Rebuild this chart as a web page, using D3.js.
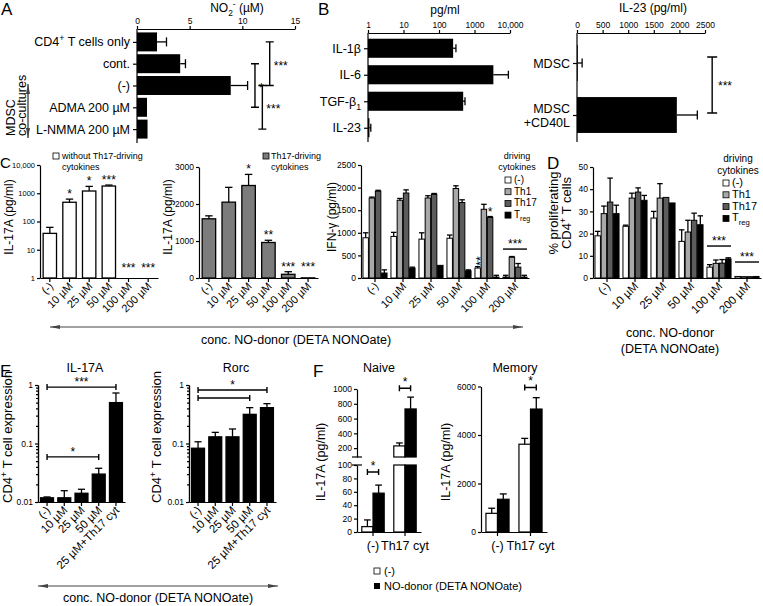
<!DOCTYPE html>
<html>
<head>
<meta charset="utf-8">
<script src="https://cdn.jsdelivr.net/npm/d3@7"></script>
<style>
  body { margin: 0; background: #fff; }
  svg { font-family: "Liberation Sans", Arial, sans-serif; }
</style>
</head>
<body>
<svg width="763" height="606"></svg>
<script>
// ---- data ----
// A: NO2- in co-cultures
const aCats = ["CD4^{+} T cells only", "cont.", "(-)", "ADMA 200 µM", "L-NMMA 200 µM"];
const aVals = [1.9, 4.1, 8.9, 0.95, 1.0];
const aHi = [2.8, 4.6, 10.5, 0.95, 1.0];
const aTicks = [0, 5, 10, 15];
const aSig = [["cont.", "ADMA 200 µM", 11.2, "*"], ["CD4^{+} T cells only", "(-)", 12.6, "***"], ["(-)", "L-NMMA 200 µM", 11.9, "***"]];

// B: cytokines (pg/ml)
const bCats = ["IL-1β", "IL-6", "TGF-β_{1}", "IL-23"];
const bVals = [250, 3400, 480, 1.1];
const bHi = [300, 9000, 540, 1.2];
const bTicks = [1, 10, 100, 1000, 10000];
const bTickLabels = ["1", "10", "100", "1000", "10,000"];
const il23Cats = ["MDSC", "MDSC|+CD40L"];
const il23Vals = [15, 1950];
const il23Hi = [100, 2350];
const il23Ticks = [0, 500, 1000, 1500, 2000, 2500];

// C / D: NO-donor concentrations
const concCats = ["(-)", "10 µM", "25 µM", "50 µM", "100 µM", "200 µM"];
const il17NoCyt = [38, 480, 1200, 1800, 1, 1];
const il17NoCytHi = [62, 620, 1750, 1950, 1, 1];
const il17NoCytSig = ["", "*", "*", "***", "***", "***"];
const c1Ticks = [1, 10, 100, 1000, 10000];
const c1TickLabels = ["1", "10", "100", "1000", "10,000"];
const il17Cyt = [1600, 2050, 2500, 960, 100, 4];
const il17CytHi = [1680, 2450, 2800, 1020, 170, 6];
const il17CytSig = ["", "", "*", "**", "***", "***"];
const c2Ticks = [0, 1000, 2000, 3000];

const drivers = ["(-)", "Th1", "Th17", "T_{reg}"];
const ifn = [
  [890, 920, 860, 880, 220, 20],
  [1770, 1720, 1770, 1980, 1520, 460],
  [1920, 1880, 1850, 1670, 1340, 240],
  [110, 220, 280, 160, 20, 20]
];
const ifnHi = [
  [1000, 1010, 1000, 950, 250, 60],
  [1790, 1760, 1820, 2040, 1630, 475],
  [1940, 1950, 1870, 1730, 1360, 320],
  [180, 240, 290, 180, 60, 60]
];
const c3Ticks = [0, 500, 1000, 1500, 2000, 2500];

const prolif = [
  [19, 23.3, 27, 16.5, 4.9, 0.7],
  [29, 36, 36, 20.7, 6.6, 0.6],
  [34.2, 38.7, 36.3, 26, 6.7, 0.6],
  [29, 35, 33.8, 24, 8.6, 0.7]
];
const prolifHi = [
  [21, 23.8, 30, 21.7, 6, 0.9],
  [32.4, 38.2, 42.5, 26, 8.1, 0.8],
  [45, 40.6, 36.5, 29.2, 8.3, 0.8],
  [32.8, 37.2, 34, 28, 9.1, 0.9]
];
const dTicks = [0, 10, 20, 30, 40, 50];

// E: relative expression
const eCats = ["(-)", "10 µM", "25 µM", "50 µM", "25 µM+Th17 cyt"];
const il17Expr = [0.0118, 0.0118, 0.0141, 0.030, 0.5];
const il17ExprHi = [0.0122, 0.0156, 0.0165, 0.0377, 0.73];
const rorcExpr = [0.083, 0.13, 0.13, 0.315, 0.41];
const rorcExprHi = [0.107, 0.155, 0.177, 0.41, 0.48];
const eTicks = [0.01, 0.1, 1];

// F: naive / memory
const fCats = ["(-)", "Th17 cyt"];
const naiveCtrl = [8, 230], naiveCtrlHi = [18, 270];
const naiveNO = [58, 730], naiveNOHi = [70, 890];
const memCtrl = [770, 3620], memCtrlHi = [980, 3860];
const memNO = [1350, 5070], memNOHi = [1570, 5540];
const fLowTicks = [0, 20, 40, 60, 80, 100];
const fHighTicks = [200, 400, 600, 800, 1000];
const memTicks = [0, 2000, 4000, 6000];

// ---- helpers ----
const svg = d3.select("svg");
const greys = ["#fff", "#a8a8a8", "#5c5c5c", "#000"];
const plain = d3.format("d");
const TICK_FS = 8.5;

svg.append("defs").append("marker")
  .attr("id", "arr").attr("viewBox", "0 0 10 4").attr("refX", 10).attr("refY", 2)
  .attr("markerWidth", 10).attr("markerHeight", 4).attr("markerUnits", "userSpaceOnUse")
  .attr("orient", "auto-start-reverse")
  .append("path").attr("d", "M0,0L10,2L0,4z").attr("fill", "#444");

// text with ^{sup} and _{sub}
function rich(sel, s) {
  const fs = +sel.attr("font-size");
  const re = /([\^_])\{([^}]*)\}/g;
  let last = 0, m, off = 0;
  const put = (t, d, small) => {
    const ts = sel.append("tspan").text(t);
    if (d !== off) ts.attr("dy", d - off);
    if (small) ts.attr("font-size", fs * 0.7);
    off = d;
  };
  while ((m = re.exec(s))) {
    if (m.index > last) put(s.slice(last, m.index), 0, false);
    put(m[2], m[1] === "^" ? -fs * 0.4 : fs * 0.3, true);
    last = re.lastIndex;
  }
  if (last < s.length) put(s.slice(last), 0, false);
  return sel;
}

function text(g, x, y, s, fs, anchor) {
  return rich(g.append("text").attr("x", x).attr("y", y).attr("font-size", fs)
    .attr("text-anchor", anchor || "middle"), s);
}

function vtext(g, x, y, s, fs, anchor) {
  return rich(g.append("text").attr("transform", `translate(${x},${y}) rotate(-90)`)
    .attr("font-size", fs).attr("text-anchor", anchor || "middle"), s);
}

function letter(x, y, s, fs) {
  svg.append("text").attr("x", x).attr("y", y).attr("font-size", fs || 17).text(s);
}

function ax(sel, fs) {
  sel.attr("font-family", null).attr("font-size", fs);
  sel.selectAll("line,path").attr("stroke", "#000").attr("stroke-width", 1.2);
}

function line(g, x1, y1, x2, y2, w) {
  return g.append("line").attr("x1", x1).attr("y1", y1).attr("x2", x2).attr("y2", y2)
    .attr("stroke", "#000").attr("stroke-width", w || 1.3);
}

function errV(g, x, y0, y1, w) {
  if (Math.abs(y1 - y0) < 0.5) return;
  line(g, x, y0, x, y1);
  line(g, x - w / 2, y1, x + w / 2, y1);
}

function errH(g, x0, x1, y, h) {
  if (Math.abs(x1 - x0) < 0.5) return;
  line(g, x0, y, x1, y);
  line(g, x1, y - h / 2, x1, y + h / 2);
}

function bracketV(g, x, y1, y2, cap) {
  g.append("path").attr("d", `M${x - cap},${y1}H${x + cap}M${x},${y1}V${y2}M${x - cap},${y2}H${x + cap}`)
    .attr("stroke", "#000").attr("stroke-width", 1.4).attr("fill", "none");
}

function bracketH(g, x1, x2, y, cap) {
  g.append("path").attr("d", `M${x1},${y - cap}V${y + cap}M${x1},${y}H${x2}M${x2},${y - cap}V${y + cap}`)
    .attr("stroke", "#000").attr("stroke-width", 1.4).attr("fill", "none");
}

function rotLabels(g, x, cats, y0, fs) {
  g.selectAll(null).data(cats).join("text")
    .attr("transform", d => `translate(${x(d) + x.bandwidth() / 2 + 4},${y0}) rotate(-45)`)
    .attr("text-anchor", "end").attr("font-size", fs).text(d => d);
}

function bottomAxis(g, x, y) {
  g.append("g").attr("transform", `translate(0,${y})`)
    .call(d3.axisBottom(x).tickSize(4).tickSizeOuter(0).tickFormat(""))
    .call(ax, 10);
}

function leftAxis(g, y, x, ticks, fmt, fs) {
  const a = d3.axisLeft(y).tickValues(ticks).tickSize(3).tickSizeOuter(0).tickPadding(2)
    .tickFormat(fmt || plain);
  g.append("g").attr("transform", `translate(${x},0)`).call(a).call(ax, fs || TICK_FS);
}

function bars(g, x, y, cats, vals, his, fill, base) {
  cats.forEach((c, i) => {
    const y0 = y(base), yv = y(vals[i]);
    g.append("rect").attr("x", x(c)).attr("y", yv).attr("width", x.bandwidth())
      .attr("height", Math.max(0, y0 - yv)).attr("fill", fill)
      .attr("stroke", "#000").attr("stroke-width", 1.3);
    errV(g, x(c) + x.bandwidth() / 2, yv, y(his[i]), x.bandwidth() * 0.55);
  });
}

function grouped(g, x0, y, vals, his) {
  const x1 = d3.scaleBand().domain(d3.range(vals.length)).range([0, x0.bandwidth()]).paddingInner(0.12);
  vals.forEach((arr, s) => arr.forEach((v, i) => {
    const bx = x0(concCats[i]) + x1(s);
    g.append("rect").attr("x", bx).attr("y", y(v)).attr("width", x1.bandwidth())
      .attr("height", y(0) - y(v)).attr("fill", greys[s]).attr("stroke", "#000").attr("stroke-width", 1);
    errV(g, bx + x1.bandwidth() / 2, y(v), y(his[s][i]), x1.bandwidth());
  }));
  return x1;
}

function legend(g, x, y, fs, step) {
  drivers.forEach((d, i) => {
    g.append("rect").attr("x", x).attr("y", y + i * step).attr("width", 6).attr("height", 6)
      .attr("fill", greys[i]).attr("stroke", "#000").attr("stroke-width", 0.8);
    text(g, x + 9, y + i * step + 6, d, fs, "start");
  });
}

function arrow(g, x1, x2, y) {
  g.append("line").attr("x1", x1).attr("x2", x2).attr("y1", y).attr("y2", y)
    .attr("stroke", "#444").attr("stroke-width", 1.2)
    .attr("marker-start", "url(#arr)").attr("marker-end", "url(#arr)");
}

// ---- A ----
const gA = svg.append("g");
letter(1, 15, "A");
const xA = d3.scaleLinear().domain([0, 15]).range([137, 295]);
const yA = d3.scalePoint().domain(aCats).range([31, 140]).padding(0.5);
const bhA = yA.step() * 0.87;
text(gA, 237, 12, "NO_{2}^{-} (µM)", 12);
gA.append("g").attr("transform", "translate(0,29)")
  .call(d3.axisTop(xA).tickValues(aTicks).tickSize(3).tickSizeOuter(0).tickPadding(2))
  .call(ax, TICK_FS);
const aLeft = gA.append("g").attr("transform", "translate(137,0)")
  .call(d3.axisLeft(yA).tickSize(4).tickSizeOuter(0).tickPadding(3).tickFormat(""))
  .call(ax, 12);
aLeft.select(".domain").remove();
aLeft.selectAll(".tick text").each(function (d) { rich(d3.select(this).attr("font-size", 12.5), d); });
line(gA, 137, 29, 137, 143, 1.2);
aCats.forEach((c, i) => {
  gA.append("rect").attr("x", xA(0)).attr("y", yA(c) - bhA / 2)
    .attr("width", xA(aVals[i]) - xA(0)).attr("height", bhA).attr("fill", "#000");
  errH(gA, xA(aVals[i]), xA(aHi[i]), yA(c), 9);
});
aSig.forEach(([a, b, at, s]) => {
  const xx = xA(at);
  bracketV(gA, xx, yA(a), yA(b), 4);
  gA.append("text").attr("x", xx + 4).attr("y", (yA(a) + yA(b)) / 2 + 6).attr("font-size", 12).text(s);
});
line(gA, 28, 84, 28, 138, 1).attr("marker-start", "url(#arr)").attr("marker-end", "url(#arr)");
vtext(gA, 15, 136, "MDSC", 12.5, "start");
vtext(gA, 26, 136, "co-cultures", 12.5, "start");

// ---- B (left) ----
const gB = svg.append("g");
letter(318, 15, "B");
const xB = d3.scaleLog().domain([1, 10000]).range([368, 510]);
const yB = d3.scalePoint().domain(bCats).range([35, 141]).padding(0.5);
const bhB = yB.step() * 0.72;
text(gB, 445, 14, "pg/ml", 12);
gB.append("g").attr("transform", "translate(0,33)")
  .call(d3.axisTop(xB).tickValues(bTicks).tickFormat((d, i) => bTickLabels[i]).tickSize(3).tickSizeOuter(0).tickPadding(2))
  .call(ax, TICK_FS);
const bLeft = gB.append("g").attr("transform", "translate(368,0)")
  .call(d3.axisLeft(yB).tickSize(4).tickSizeOuter(0).tickPadding(3).tickFormat(""))
  .call(ax, 12);
bLeft.select(".domain").remove();
bLeft.selectAll(".tick text").each(function (d) { rich(d3.select(this).attr("font-size", 12.5), d); });
line(gB, 368, 33, 368, 142, 1.2);
bCats.forEach((c, i) => {
  gB.append("rect").attr("x", xB(1)).attr("y", yB(c) - bhB / 2)
    .attr("width", xB(bVals[i]) - xB(1)).attr("height", bhB).attr("fill", "#000");
  errH(gB, xB(bVals[i]), xB(bHi[i]), yB(c), 8);
});

// ---- B (right) ----
const gB2 = svg.append("g");
const xB2 = d3.scaleLinear().domain([0, 2500]).range([577, 705]);
const yB2 = d3.scalePoint().domain(il23Cats).range([37, 141]).padding(0.5);
const bhB2 = yB2.step() * 0.69;
text(gB2, 653, 12, "IL-23 (pg/ml)", 12);
gB2.append("g").attr("transform", "translate(0,33)")
  .call(d3.axisTop(xB2).tickValues(il23Ticks).tickFormat(plain).tickSize(3).tickSizeOuter(0).tickPadding(2))
  .call(ax, TICK_FS);
const b2Left = gB2.append("g").attr("transform", "translate(577,0)")
  .call(d3.axisLeft(yB2).tickSize(4).tickSizeOuter(0).tickPadding(3).tickFormat(""))
  .call(ax, 12);
b2Left.select(".domain").remove();
b2Left.selectAll(".tick text").each(function (d) {
  const t = d3.select(this).attr("font-size", 12.5).attr("dy", null);
  const parts = d.split("|");
  parts.forEach((p, k) => t.append("tspan").attr("x", -7)
    .attr("dy", k === 0 ? (4.3 - (parts.length - 1) * 7) : 14).text(p));
});
line(gB2, 577, 33, 577, 142, 1.2);
il23Cats.forEach((c, i) => {
  gB2.append("rect").attr("x", xB2(0)).attr("y", yB2(c) - bhB2 / 2)
    .attr("width", xB2(il23Vals[i]) - xB2(0)).attr("height", bhB2).attr("fill", "#000");
  errH(gB2, xB2(il23Vals[i]), xB2(il23Hi[i]), yB2(c), 9);
});
bracketV(gB2, xB2(2640), yB2(il23Cats[0]) - 6, yB2(il23Cats[1]) - 2, 5);
gB2.append("text").attr("x", 718).attr("y", 90).attr("font-size", 12).text("***");

// ---- C1 ----
const gC = svg.append("g");
letter(0, 168, "C", 15);
const xC1 = d3.scaleBand().domain(concCats).range([40, 158]).paddingInner(0.32).paddingOuter(0.16);
const yC1 = d3.scaleLog().domain([1, 10000]).range([278, 165]);
bars(gC, xC1, yC1, concCats, il17NoCyt, il17NoCytHi, "#fff", 1);
leftAxis(gC, yC1, 40, c1Ticks, (d, i) => c1TickLabels[i], 7.5);
bottomAxis(gC, xC1, 278);
rotLabels(gC, xC1, concCats, 287, 11);
vtext(gC, 13, 217, "IL-17A (pg/ml)", 12);
concCats.forEach((c, i) => {
  if (!il17NoCytSig[i]) return;
  text(gC, xC1(c) + xC1.bandwidth() / 2, yC1(il17NoCytHi[i]) - (il17NoCyt[i] > 1 ? 1 : 6), il17NoCytSig[i], 12);
});
gC.append("rect").attr("x", 53).attr("y", 153).attr("width", 6).attr("height", 6)
  .attr("fill", "#fff").attr("stroke", "#000").attr("stroke-width", 0.8);
text(gC, 62, 159, "without Th17-driving", 9, "start");
text(gC, 62, 169.5, "cytokines", 9, "start");

// ---- C2 ----
const xC2 = d3.scaleBand().domain(concCats).range([199, 318]).paddingInner(0.32).paddingOuter(0.16);
const yC2 = d3.scaleLinear().domain([0, 3000]).range([278, 167]);
bars(gC, xC2, yC2, concCats, il17Cyt, il17CytHi, "#7c7c7c", 0);
leftAxis(gC, yC2, 199, c2Ticks);
bottomAxis(gC, xC2, 278);
rotLabels(gC, xC2, concCats, 287, 11);
vtext(gC, 172, 217, "IL-17A (pg/ml)", 12);
const c2Low = d3.max(il17CytHi.slice(4));
concCats.forEach((c, i) => {
  if (!il17CytSig[i]) return;
  text(gC, xC2(c) + xC2.bandwidth() / 2, yC2(i >= 4 ? c2Low : il17CytHi[i]) - 1, il17CytSig[i], 12);
});
gC.append("rect").attr("x", 263).attr("y", 153).attr("width", 6).attr("height", 6)
  .attr("fill", "#7c7c7c").attr("stroke", "#000").attr("stroke-width", 0.8);
text(gC, 271, 159, "Th17-driving", 9, "start");
text(gC, 271, 169.5, "cytokines", 9, "start");

// ---- C3 ----
const xC3 = d3.scaleBand().domain(concCats).range([361, 529]).paddingInner(0.14).paddingOuter(0.07);
const yC3 = d3.scaleLinear().domain([0, 2500]).range([278, 165]);
const subC3 = grouped(gC, xC3, yC3, ifn, ifnHi);
leftAxis(gC, yC3, 361, c3Ticks);
bottomAxis(gC, xC3, 278);
rotLabels(gC, xC3, concCats, 287, 11);
vtext(gC, 336, 217, "IFN-γ (pg/ml)", 12);
{
  const c = "100 µM";
  const xw = xC3(c) + subC3(0) + subC3.bandwidth() / 2;
  gC.append("text").attr("transform", `translate(${xw + 7},${yC3(ifnHi[0][4]) - 1}) rotate(-90)`)
    .attr("font-size", 12).text("**");
  text(gC, xC3(c) + subC3(2) + subC3.bandwidth() / 2, yC3(ifnHi[2][4]) - 1, "*", 12);
  const c2 = "200 µM";
  line(gC, xC3(c2), yC3(640), xC3(c2) + xC3.bandwidth(), yC3(640), 1.4);
  text(gC, xC3(c2) + xC3.bandwidth() / 2, yC3(640) - 1, "***", 12);
}
text(gC, 517, 159, "driving", 9);
text(gC, 517, 169.5, "cytokines", 9);
legend(gC, 505, 177, 10, 11.7);

arrow(gC, 50, 523, 327);
text(gC, 296, 344, "conc. NO-donor (DETA NONOate)", 12.5);

// ---- D ----
const gD = svg.append("g");
letter(547, 169, "D");
const xD = d3.scaleBand().domain(concCats).range([593, 761]).paddingInner(0.14).paddingOuter(0.07);
const yD = d3.scaleLinear().domain([0, 50]).range([278, 167]);
grouped(gD, xD, yD, prolif, prolifHi);
leftAxis(gD, yD, 593, dTicks);
bottomAxis(gD, xD, 278);
rotLabels(gD, xD, concCats, 287, 11.5);
vtext(gD, 558, 213, "% proliferating", 13);
vtext(gD, 571, 213, "CD4^{+} T cells", 13);
[["100 µM", 14.4], ["200 µM", 7.2]].forEach(([c, v]) => {
  line(gD, xD(c), yD(v), xD(c) + xD.bandwidth(), yD(v), 1.4);
  text(gD, xD(c) + xD.bandwidth() / 2, yD(v) - 1, "***", 12);
});
text(gD, 738, 162, "driving", 10);
text(gD, 738, 174, "cytokines", 10);
legend(gD, 723, 180, 11, 11.8);
text(gD, 670, 337, "conc. NO-donor", 12.5);
text(gD, 670, 353, "(DETA NONOate)", 12.5);

// ---- E ----
const gE = svg.append("g");
letter(0, 377, "E");
const yE = d3.scaleLog().domain([0.01, 1]).range([502, 385]);
const eMinor = [];
[0.01, 0.1].forEach(b => d3.range(2, 10).forEach(k => eMinor.push(b * k)));
function exprPanel(x0, x1, vals, his, title) {
  const x = d3.scaleBand().domain(eCats).range([x0, x1]).paddingInner(0.25).paddingOuter(0.15);
  bars(gE, x, yE, eCats, vals, his, "#000", 0.01);
  gE.append("g").attr("transform", `translate(${x0},0)`)
    .call(d3.axisLeft(yE).tickValues(eMinor).tickSize(2).tickSizeOuter(0).tickFormat(""))
    .call(ax, TICK_FS);
  leftAxis(gE, yE, x0, eTicks, d => String(d));
  bottomAxis(gE, x, 502);
  rotLabels(gE, x, eCats, 511, 11.5);
  text(gE, x0 + 47, 372, title, 12.5);
  return x;
}
const xE1 = exprPanel(38, 125, il17Expr, il17ExprHi, "IL-17A");
const xE2 = exprPanel(189, 276, rorcExpr, rorcExprHi, "Rorc");
const mid = (x, c) => x(c) + x.bandwidth() / 2;
bracketH(gE, mid(xE1, eCats[0]), mid(xE1, eCats[3]), yE(0.059), 3);
text(gE, (mid(xE1, eCats[0]) + mid(xE1, eCats[3])) / 2, yE(0.059) - 1, "*", 12);
bracketH(gE, mid(xE1, eCats[0]), mid(xE1, eCats[4]), yE(0.92), 3);
text(gE, (mid(xE1, eCats[0]) + mid(xE1, eCats[4])) / 2, yE(0.92) - 1, "***", 12);
bracketH(gE, mid(xE2, eCats[0]), mid(xE2, eCats[4]), yE(0.82), 3);
bracketH(gE, mid(xE2, eCats[0]), mid(xE2, eCats[3]), yE(0.6), 3);
text(gE, (mid(xE2, eCats[0]) + mid(xE2, eCats[4])) / 2, yE(0.82) - 1, "*", 12);
vtext(gE, 12, 503, "CD4^{+} T cell expression", 13, "start");
vtext(gE, 161, 503, "CD4^{+} T cell expression", 13, "start");
arrow(gE, 38, 278, 586);
text(gE, 158, 602, "conc. NO-donor (DETA NONOate)", 12.5);

// ---- F ----
const gF = svg.append("g");
letter(313, 377, "F");
const yLo = d3.scaleLinear().domain([0, 100]).range([532, 465]);
const yUp = d3.scaleLinear().domain([80, 1000]).range([457, 389]);
const xF1 = d3.scaleBand().domain(fCats).range([357, 421]).paddingInner(0.3).paddingOuter(0.15);
const subF = d3.scaleBand().domain([0, 1]).range([0, xF1.bandwidth()]);
const yF = v => v <= 100 ? yLo(v) : yUp(v);
[[naiveCtrl, naiveCtrlHi], [naiveNO, naiveNOHi]].forEach(([vals, his], s) => {
  fCats.forEach((c, i) => {
    const bx = xF1(c) + subF(s), v = vals[i];
    const attrs = r => r.attr("x", bx).attr("width", subF.bandwidth()).attr("fill", s ? "#000" : "#fff")
      .attr("stroke", "#000").attr("stroke-width", 1.2);
    if (v <= 100) {
      attrs(gF.append("rect")).attr("y", yLo(v)).attr("height", yLo(0) - yLo(v));
    } else {
      attrs(gF.append("rect")).attr("y", yLo(100)).attr("height", yLo(0) - yLo(100));
      attrs(gF.append("rect")).attr("y", yUp(v)).attr("height", yUp(80) - yUp(v));
    }
    errV(gF, bx + subF.bandwidth() / 2, yF(v), yF(his[i]), subF.bandwidth() * 0.6);
  });
});
leftAxis(gF, yLo, 357, fLowTicks);
leftAxis(gF, yUp, 357, fHighTicks);
line(gF, 352, yUp(80), 362, yUp(80), 1.2);
line(gF, 352, yLo(100), 362, yLo(100), 1.2);
bottomAxis(gF, xF1, 532);
text(gF, 379, 372, "Naive", 12.5);
vtext(gF, 325, 462, "IL-17A (pg/ml)", 12.5);
xF1.domain().forEach(c => text(gF, mid(xF1, c), 550, c, 12.5));
{
  const c = fCats[0];
  const xa = xF1(c) + subF.bandwidth() / 2, xb = xF1(c) + subF(1) + subF.bandwidth() / 2;
  bracketH(gF, xa, xb, yLo(89.5), 3);
  text(gF, (xa + xb) / 2, yLo(89.5) - 2, "*", 12);
  const c2 = fCats[1];
  const xc = xF1(c2) + subF.bandwidth() / 2, xd = xF1(c2) + subF(1) + subF.bandwidth() / 2;
  bracketH(gF, xc, xd, yUp(1010), 3);
  text(gF, (xc + xd) / 2, yUp(1010) - 2, "*", 12);
}

const xF2 = d3.scaleBand().domain(fCats).range([481, 547]).paddingInner(0.3).paddingOuter(0.15);
const yM = d3.scaleLinear().domain([0, 6000]).range([532, 386.5]);
const subM = d3.scaleBand().domain([0, 1]).range([0, xF2.bandwidth()]);
[[memCtrl, memCtrlHi], [memNO, memNOHi]].forEach(([vals, his], s) => {
  fCats.forEach((c, i) => {
    const bx = xF2(c) + subM(s);
    gF.append("rect").attr("x", bx).attr("y", yM(vals[i])).attr("width", subM.bandwidth())
      .attr("height", yM(0) - yM(vals[i])).attr("fill", s ? "#000" : "#fff")
      .attr("stroke", "#000").attr("stroke-width", 1.2);
    errV(gF, bx + subM.bandwidth() / 2, yM(vals[i]), yM(his[i]), subM.bandwidth() * 0.6);
  });
});
leftAxis(gF, yM, 481, memTicks);
bottomAxis(gF, xF2, 532);
text(gF, 515, 372, "Memory", 12.5);
vtext(gF, 450, 462, "IL-17A (pg/ml)", 12.5);
xF2.domain().forEach(c => text(gF, mid(xF2, c), 550, c, 12.5));
{
  const c = fCats[1];
  const xa = xF2(c) + subM.bandwidth() / 2, xb = xF2(c) + subM(1) + subM.bandwidth() / 2;
  bracketH(gF, xa, xb, yM(5960), 3);
  text(gF, (xa + xb) / 2, yM(5960) - 2, "*", 12);
}
gF.append("rect").attr("x", 374).attr("y", 568).attr("width", 6).attr("height", 6)
  .attr("fill", "#fff").attr("stroke", "#000").attr("stroke-width", 0.8);
text(gF, 384, 575, "(-)", 11, "start");
gF.append("rect").attr("x", 374).attr("y", 583).attr("width", 6).attr("height", 6).attr("fill", "#000");
text(gF, 384, 590, "NO-donor (DETA NONOate)", 11, "start");
</script>
</body>
</html>
